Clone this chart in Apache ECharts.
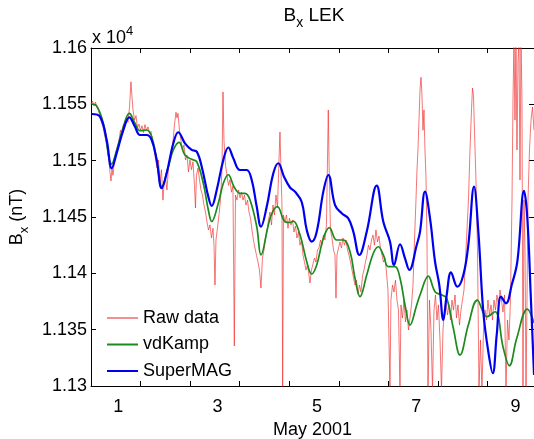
<!DOCTYPE html>
<html><head><meta charset="utf-8">
<script src="https://cdn.jsdelivr.net/npm/echarts@6/dist/echarts.min.js"></script>
<style>html,body{margin:0;padding:0;background:#fff}#c{width:534px;height:439px}</style>
</head><body><div id="c"></div>
<script>
// ---- data ----
const xLabelDays = [1, 3, 5, 7, 9];
const xTickLabels = ['1', '3', '5', '7', '9'];
const xTickDays = [1.44, 2.44, 3.44, 4.44, 5.44, 6.44, 7.44, 8.44];
const yTickStep = 50;

// [day of May 2001, Bx nT]
const rawData = [
[0.450,11550],[0.480,11553],[0.510,11548.5],[0.540,11552],[0.571,11547],[0.601,11545],[0.631,11539],[0.661,11534],[0.691,11530],[0.722,11523],
[0.752,11517],[0.782,11509.5],[0.812,11500.6],[0.832,11490],[0.853,11482],[0.873,11493.5],[0.893,11487],[0.923,11500.6],[0.953,11508],[0.984,11512],
[1.014,11518],[1.044,11527],[1.074,11524],[1.104,11532.5],[1.135,11530],[1.165,11538],[1.195,11534],[1.225,11547],[1.255,11570],[1.275,11557],
[1.296,11545],[1.326,11536],[1.356,11540],[1.386,11529],[1.416,11532.5],[1.447,11527],[1.477,11531],[1.507,11525],[1.537,11532],[1.567,11527],
[1.598,11530],[1.628,11524],[1.658,11526],[1.688,11518],[1.718,11511],[1.749,11502],[1.779,11493.5],[1.809,11500.6],[1.839,11481],[1.869,11492],
[1.899,11465],[1.920,11478],[1.950,11485],[1.980,11474],[2.010,11493.5],[2.041,11500.6],[2.071,11509.5],[2.101,11516.6],[2.131,11531.7],[2.161,11543],
[2.182,11538],[2.202,11542],[2.232,11527],[2.262,11518],[2.292,11509.5],[2.323,11514],[2.353,11500.6],[2.383,11505],[2.413,11490],[2.443,11500.6],
[2.474,11492],[2.504,11499],[2.534,11478],[2.554,11458],[2.574,11487],[2.605,11493.5],[2.635,11483],[2.665,11474],[2.695,11469.5],[2.725,11460.6],
[2.756,11454.4],[2.786,11445.6],[2.816,11438.5],[2.846,11443],[2.876,11431.4],[2.907,11440],[2.927,11425],[2.947,11389.6],[2.967,11429.6],[2.997,11440],
[3.028,11452],[3.058,11465],[3.088,11492],[3.108,11561],[3.128,11518],[3.159,11496],[3.189,11487],[3.219,11478],[3.249,11483],[3.279,11472],
[3.309,11477.5],[3.336,11335.5],[3.360,11469.5],[3.390,11465],[3.420,11474],[3.451,11467],[3.481,11472],[3.511,11465],[3.541,11469.5],[3.571,11460.6],
[3.602,11465],[3.632,11454.4],[3.662,11449],[3.692,11438.5],[3.722,11429.6],[3.753,11422.5],[3.783,11416],[3.813,11410],[3.843,11403],[3.873,11387],
[3.904,11413.6],[3.934,11420.7],[3.964,11431.4],[3.994,11436.7],[4.024,11447.3],[4.055,11454.4],[4.085,11443],[4.115,11460.6],[4.145,11451.8],[4.175,11469.5],
[4.206,11458],[4.236,11500.6],[4.256,11525.4],[4.276,11491.7],[4.296,11460.6],[4.310,11296],[4.326,11451.8],[4.357,11445.6],[4.387,11451.8],[4.417,11440],
[4.447,11449],[4.477,11443],[4.508,11447.3],[4.538,11436.7],[4.568,11442],[4.598,11431.4],[4.629,11436.7],[4.659,11425],[4.689,11429.6],[4.719,11416.3],
[4.749,11410],[4.780,11403],[4.810,11407.4],[4.840,11398.5],[4.860,11391.4],[4.890,11403],[4.921,11404.7],[4.951,11413.6],[4.981,11410],[5.011,11420.7],
[5.041,11422.5],[5.072,11429.6],[5.102,11425],[5.132,11434],[5.162,11429.6],[5.192,11443],[5.213,11500.6],[5.229,11545],[5.247,11491.7],[5.273,11438.5],
[5.304,11431.4],[5.334,11420.7],[5.364,11416.3],[5.384,11378],[5.404,11416.3],[5.435,11422.5],[5.465,11427.8],[5.495,11422.5],[5.525,11431.4],[5.555,11425],
[5.586,11429.6],[5.616,11420.7],[5.646,11416.3],[5.676,11410],[5.706,11403],[5.737,11396],[5.767,11389.6],[5.797,11394],[5.827,11381.6],[5.857,11389.6],
[5.887,11383.4],[5.918,11397.6],[5.948,11403],[5.978,11410],[6.008,11416.3],[6.038,11425],[6.069,11420.7],[6.099,11429.6],[6.129,11434],[6.159,11425],
[6.189,11438.5],[6.220,11427.8],[6.250,11433],[6.280,11422.5],[6.310,11416.3],[6.340,11410],[6.371,11413.6],[6.401,11401],[6.431,11385],[6.451,11342.6],
[6.471,11296],[6.491,11376.3],[6.522,11389.6],[6.552,11383.4],[6.582,11394],[6.612,11376.3],[6.643,11367.4],[6.673,11296],[6.693,11372],[6.723,11360.3],
[6.754,11376.3],[6.784,11356.8],[6.814,11367.4],[6.844,11349.7],[6.874,11360.3],[6.905,11372],[6.935,11389.6],[6.965,11429.6],[6.995,11465],[7.015,11491.7],
[7.035,11509.5],[7.056,11536],[7.076,11562.7],[7.096,11574],[7.116,11558],[7.136,11527],[7.156,11545],[7.176,11509.5],[7.197,11484.6],[7.217,11429.6],
[7.237,11296],[7.267,11376.3],[7.297,11349.7],[7.328,11296],[7.358,11367.4],[7.388,11380.8],[7.418,11358.6],[7.448,11372],[7.479,11340.8],[7.509,11296],
[7.539,11349.7],[7.569,11367.4],[7.599,11376.3],[7.630,11363],[7.660,11372],[7.690,11358.6],[7.720,11376.3],[7.750,11367.4],[7.781,11380.8],[7.811,11360.3],
[7.841,11372],[7.871,11354.1],[7.901,11367.4],[7.932,11376.3],[7.962,11385.2],[7.992,11411.8],[8.022,11438.5],[8.052,11465],[8.083,11509.5],[8.113,11545],
[8.133,11564.5],[8.153,11558],[8.173,11527],[8.203,11482.8],[8.234,11420.7],[8.264,11296],[8.294,11340.8],[8.324,11296],[8.355,11349.7],[8.385,11367.4],
[8.415,11358.6],[8.445,11376.3],[8.475,11363],[8.506,11372],[8.536,11358.6],[8.566,11376.3],[8.596,11367.4],[8.626,11380.8],[8.657,11372],[8.687,11385.2],
[8.717,11376.3],[8.747,11365.7],[8.778,11380.8],[8.808,11296],[8.838,11358.6],[8.868,11340.8],[8.898,11376.3],[8.929,11465],[8.949,11553.8],[8.969,11607],
[8.989,11536],[9.009,11607],[9.029,11509.5],[9.050,11589],[9.070,11607],[9.090,11482.8],[9.110,11607],[9.130,11553.8],[9.150,11296],[9.170,11465],
[9.191,11420.7],[9.211,11296],[9.231,11376.3],[9.251,11465],[9.281,11509.5],[9.312,11536],[9.342,11547.6],[9.372,11527]
];

const vdKampData = [
[0.464,11550.3],[0.565,11548.5],[0.698,11533.2],[0.867,11497],[0.968,11509.5],[1.101,11530.1],[1.222,11542],[1.336,11533.2],[1.437,11526.6],[1.572,11527.2],
[1.673,11521.3],[1.773,11500.6],[1.874,11476.9],[2.007,11494.6],[2.108,11509.5],[2.223,11516.3],[2.343,11505],[2.478,11501.2],[2.579,11499.1],[2.712,11479.9],
[2.813,11456.2],[2.881,11446],[3.014,11462.2],[3.115,11479.9],[3.216,11487.5],[3.330,11476.9],[3.451,11471],[3.552,11471],[3.653,11465.1],[3.788,11441.4],
[3.874,11416.3],[4.021,11442.9],[4.096,11453.5],[4.202,11459.3],[4.357,11445.8],[4.458,11445.1],[4.525,11446.4],[4.660,11434],[4.795,11410.3],[4.895,11399.4],
[4.996,11407.4],[5.129,11431.1],[5.250,11440.5],[5.399,11429.6],[5.532,11429.6],[5.667,11419.2],[5.767,11395.6],[5.868,11379.3],[6.003,11398.5],[6.136,11417.8],
[6.237,11423.6],[6.337,11416.3],[6.438,11405.9],[6.573,11405.9],[6.674,11395.6],[6.774,11371.9],[6.875,11354.1],[7.010,11371.9],[7.077,11380.8],[7.244,11397.6],
[7.379,11383.7],[7.514,11380.8],[7.614,11377.8],[7.747,11351.2],[7.882,11327.5],[8.049,11354.1],[8.231,11376.3],[8.420,11361.5],[8.587,11365.9],[8.754,11333.5],
[8.875,11318],[9.024,11342.3],[9.238,11368.3],[9.373,11355.9]
];

const superMagData = [
[0.464,11541.4],[0.631,11539],[0.766,11518.3],[0.867,11493.2],[0.968,11506.8],[1.101,11527.2],[1.222,11538.5],[1.336,11530.1],[1.437,11522.8],[1.572,11522.8],
[1.673,11518.3],[1.773,11500.6],[1.874,11475.5],[1.975,11489],[2.108,11515.4],[2.208,11525.2],[2.343,11515.4],[2.478,11509.5],[2.579,11508],[2.680,11494.6],
[2.813,11468],[2.881,11459.8],[2.982,11474],[3.115,11500.6],[3.216,11511.7],[3.316,11502.1],[3.451,11491.7],[3.586,11491.7],[3.687,11482.8],[3.788,11459.1],
[3.874,11441.4],[3.989,11459.1],[4.122,11488.8],[4.223,11497.7],[4.337,11485.8],[4.458,11476.2],[4.559,11472.5],[4.694,11463.3],[4.795,11438.5],[4.895,11428.1],
[4.996,11437],[5.129,11472.5],[5.230,11487.3],[5.365,11460.6],[5.499,11453.3],[5.632,11448.8],[5.733,11437],[5.854,11416.3],[6.003,11437],[6.204,11477.8],
[6.337,11445.8],[6.472,11428.1],[6.553,11407.4],[6.674,11425.8],[6.774,11413.3],[6.861,11403],[7.010,11425.1],[7.077,11437],[7.177,11472.5],[7.278,11448.8],
[7.379,11410.3],[7.465,11389.6],[7.546,11358.6],[7.614,11380.8],[7.701,11400.9],[7.828,11388.1],[7.949,11398.5],[8.049,11425.1],[8.164,11476.9],[8.251,11437],
[8.351,11365.9],[8.452,11330.4],[8.541,11311.3],[8.621,11345.3],[8.708,11379.3],[8.809,11373.4],[8.923,11389.6],[9.036,11410.3],[9.171,11473.1],[9.238,11448.8],
[9.306,11380.8],[9.373,11309.8]
];

// ---- chart ----
const FF = '"Liberation Sans", Arial, Helvetica, sans-serif';
const chart = echarts.init(document.getElementById('c'), null, {renderer: 'canvas'});
const xMin = 0.45, xMax = 9.372, yMin = 11300, yMax = 11600;
const titleRich = {
  b: {fontSize: 19, lineHeight: 20, color: '#000', fontFamily: FF},
  s: {fontSize: 14, lineHeight: 14, padding: [15, 0, 0, 0], color: '#000', fontFamily: FF}
};
const nameRich = {
  b: {fontSize: 18, lineHeight: 20, color: '#000', fontFamily: FF},
  s: {fontSize: 13, lineHeight: 13, padding: [15, 0, 0, 0], color: '#000', fontFamily: FF}
};
chart.setOption({
  animation: false,
  backgroundColor: '#fff',
  title: {
    text: '{b|B}{s|x}{b| LEK}',
    left: 314, top: 6, textAlign: 'center', padding: 0,
    textStyle: {fontWeight: 'normal', rich: titleRich}
  },
  graphic: [{
    type: 'text', left: 92, top: 20,
    style: {
      text: '{a|x 10}{p|4}',
      rich: {
        a: {fontSize: 18, lineHeight: 18, padding: [9, 0, 0, 0], fill: '#000', fontFamily: FF},
        p: {fontSize: 13, lineHeight: 13, verticalAlign: 'top', fill: '#000', fontFamily: FF}
      }
    }
  }],
  grid: {left: 91, top: 48, width: 443, height: 338, containLabel: false, outerBoundsMode: 'none'},
  legend: {
    orient: 'vertical', left: 102, top: 304,
    icon: 'rect', itemWidth: 31, itemHeight: 2, itemGap: 8.5,
    textStyle: {fontSize: 18, lineHeight: 18, color: '#000', fontFamily: FF},
    data: ['Raw data', 'vdKamp', 'SuperMAG']
  },
  xAxis: [{
    type: 'value', position: 'bottom', min: xMin, max: xMax,
    axisLine: {show: true, onZero: false, lineStyle: {color: '#000', width: 1}},
    axisTick: {show: true, inside: true, length: 5, customValues: xTickDays, lineStyle: {color: '#000'}},
    axisLabel: {customValues: xLabelDays, formatter: v => xTickLabels[xLabelDays.indexOf(v)],
      margin: 12, fontSize: 18, color: '#000', fontFamily: FF},
    splitLine: {show: false},
    name: 'May 2001', nameLocation: 'middle', nameGap: 31,
    nameTextStyle: {fontSize: 18, color: '#000', fontFamily: FF}
  }, {
    type: 'value', position: 'top', min: xMin, max: xMax,
    axisLine: {show: true, onZero: false, lineStyle: {color: '#000', width: 1}},
    axisTick: {show: true, inside: true, length: 5, customValues: xTickDays, lineStyle: {color: '#000'}},
    axisLabel: {show: false}, splitLine: {show: false}
  }],
  yAxis: [{
    type: 'value', min: yMin, max: yMax, interval: yTickStep,
    axisLine: {show: true, onZero: false, lineStyle: {color: '#000', width: 1}},
    axisTick: {show: true, inside: true, length: 5, lineStyle: {color: '#000'}},
    axisLabel: {formatter: v => String(+(v / 10000).toFixed(4)), margin: 4, fontSize: 18, color: '#000', fontFamily: FF},
    splitLine: {show: false},
    name: '{b|B}{s|x}{b| (nT)}', nameLocation: 'middle', nameRotate: 90, nameGap: 57,
    nameTextStyle: {rich: nameRich}
  }, {
    type: 'value', position: 'right', min: yMin, max: yMax, interval: yTickStep,
    axisLine: {show: true, onZero: false, lineStyle: {color: '#000', width: 1}},
    axisTick: {show: true, inside: true, length: 5, lineStyle: {color: '#000'}},
    axisLabel: {show: false}, splitLine: {show: false}
  }],
  series: [{
    name: 'Raw data', type: 'line', data: rawData, symbol: 'none', clip: true,
    lineStyle: {color: '#f02828', width: 0.8, opacity: 0.8}, itemStyle: {color: '#f09090'}
  }, {
    name: 'vdKamp', type: 'line', data: vdKampData, symbol: 'none', smooth: 0.4, clip: true,
    lineStyle: {color: '#1c8a1c', width: 1.7}, itemStyle: {color: '#1c8a1c'}
  }, {
    name: 'SuperMAG', type: 'line', data: superMagData, symbol: 'none', smooth: 0.4, clip: true,
    lineStyle: {color: '#0000f0', width: 2.2}, itemStyle: {color: '#0000f0'}
  }]
});
</script></body></html>
